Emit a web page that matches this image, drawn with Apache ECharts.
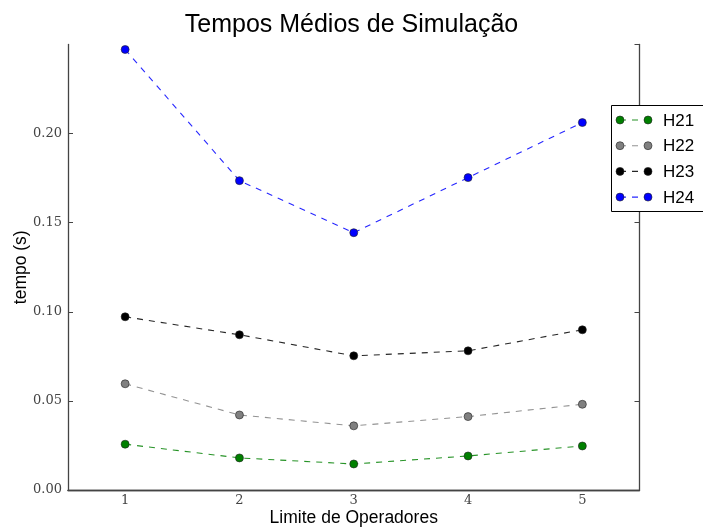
<!DOCTYPE html>
<html><head><meta charset="utf-8">
<script src="https://cdn.jsdelivr.net/npm/echarts@6/dist/echarts.min.js"></script>
<style>html,body{margin:0;padding:0;background:#fff}#c{width:703px;height:527px}</style>
</head><body><div id="c"></div>
<script>
const categories = ['1', '2', '3', '4', '5'];
const seriesNames = ['H21', 'H22', 'H23', 'H24'];
const h21 = [0.0257, 0.0180, 0.0146, 0.0191, 0.0247];
const h22 = [0.0596, 0.0421, 0.0360, 0.0412, 0.0481];
const h23 = [0.0972, 0.0871, 0.0753, 0.0781, 0.0899];
const h24 = [0.2472, 0.1736, 0.1444, 0.1753, 0.2062];
const colors = ['#008000', '#808080', '#000000', '#0000ff'];
const values = [h21, h22, h23, h24];

const chart = echarts.init(document.getElementById('c'), null, {renderer: 'canvas'});
const serif = 'DejaVu Serif';
const sans = 'Liberation Sans';

const series = values.map((v, i) => ({
  name: seriesNames[i], type: 'line', data: v,
  symbol: 'circle', symbolSize: 8,
  itemStyle: {color: colors[i], borderColor: '#222', borderWidth: 0.6},
  lineStyle: {color: colors[i], width: 1.1, type: [6, 6], opacity: 0.85},
  z: 2
}));

// legend drawn with graphic elements
const legendGraphics = [{
  type: 'rect', shape: {x: 611.5, y: 105.5, width: 100, height: 106},
  style: {fill: '#fff', stroke: '#000', lineWidth: 1}, z: 100
}];
seriesNames.forEach((n, i) => {
  const y = 120 + i * 25.7;
  legendGraphics.push({type: 'line', shape: {x1: 620, y1: y, x2: 648, y2: y},
    style: {stroke: colors[i], lineWidth: 1.1, lineDash: [6, 6], opacity: 0.85}, z: 101});
  legendGraphics.push({type: 'circle', shape: {cx: 620, cy: y, r: 4},
    style: {fill: colors[i], stroke: '#222', lineWidth: 0.6}, z: 102});
  legendGraphics.push({type: 'circle', shape: {cx: 648, cy: y, r: 4},
    style: {fill: colors[i], stroke: '#222', lineWidth: 0.6}, z: 102});
  legendGraphics.push({type: 'text', x: 663, y: y + 1, style: {text: n, fill: '#000',
    font: '17px "Liberation Sans"', textVerticalAlign: 'middle'}, z: 102});
});

const yMin = 0, yMax = 0.25, yInt = 0.05;
chart.setOption({
  animation: false,
  backgroundColor: '#fff',
  title: {text: 'Tempos Médios de Simulação', left: 'center', top: 8,
    textStyle: {fontFamily: sans, fontSize: 25, fontWeight: 'normal', color: '#000'}},
  grid: {left: 68, right: 63.5, top: 44.5, bottom: 37, containLabel: false, outerBoundsMode: 'none'},
  xAxis: [{
    type: 'category', data: categories, boundaryGap: true,
    name: 'Limite de Operadores', nameLocation: 'middle', nameGap: 19, nameMoveOverlap: false,
    nameTextStyle: {fontFamily: sans, fontSize: 17.5, color: '#000'},
    axisLine: {lineStyle: {color: '#444', width: 1.3}},
    axisTick: {alignWithLabel: true, inside: true, length: 5, lineStyle: {color: '#444'}},
    axisLabel: {fontFamily: serif, fontSize: 13, color: '#444', margin: 4},
    splitLine: {show: false}
  }, {
    type: 'category', data: categories, boundaryGap: true, position: 'top',
    axisLine: {lineStyle: {color: '#444', width: 1.3}},
    axisTick: {alignWithLabel: true, inside: true, length: 5, lineStyle: {color: '#444'}},
    axisLabel: {show: false}, splitLine: {show: false}
  }],
  yAxis: [{
    type: 'value', min: yMin, max: yMax, interval: yInt,
    name: 'tempo (s)', nameLocation: 'middle', nameGap: 38, nameRotate: 90, nameMoveOverlap: false,
    nameTextStyle: {fontFamily: sans, fontSize: 17.5, color: '#000'},
    axisLine: {show: true, lineStyle: {color: '#444', width: 1.3}},
    axisTick: {show: true, inside: true, length: 5, lineStyle: {color: '#444'}},
    axisLabel: {fontFamily: serif, fontSize: 13, color: '#444', margin: 6, showMaxLabel: false,
      formatter: v => v.toFixed(2)},
    splitLine: {show: false}
  }, {
    type: 'value', min: yMin, max: yMax, interval: yInt, position: 'right',
    axisLine: {show: true, lineStyle: {color: '#444', width: 1.3}},
    axisTick: {show: true, inside: true, length: 5, lineStyle: {color: '#444'}},
    axisLabel: {show: false}, splitLine: {show: false}
  }],
  series: series,
  graphic: legendGraphics
});
</script></body></html>
